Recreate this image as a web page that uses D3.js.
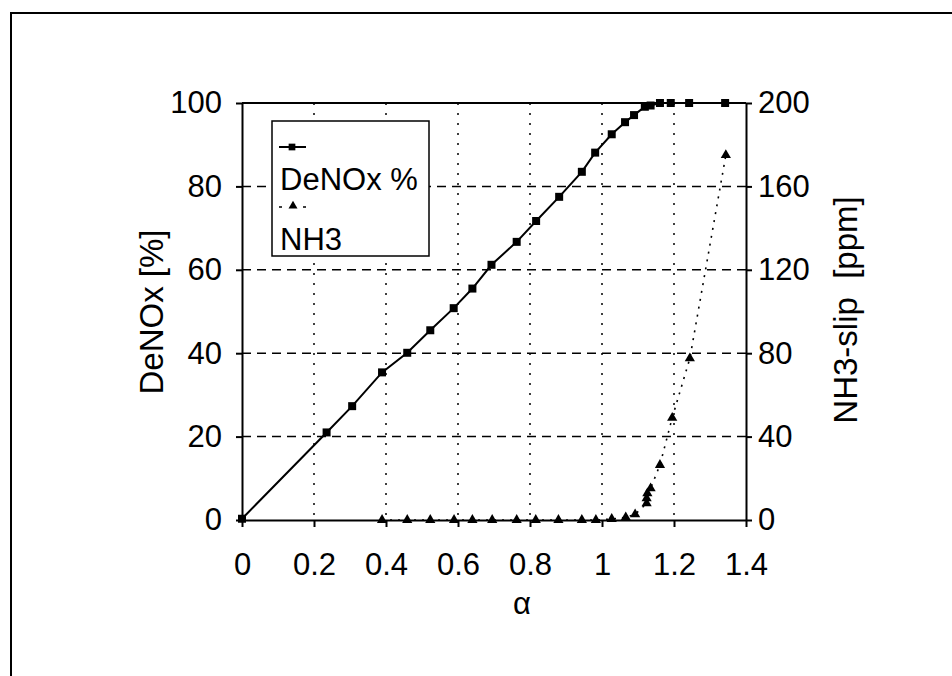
<!DOCTYPE html>
<html>
<head>
<meta charset="utf-8">
<script src="https://cdn.jsdelivr.net/npm/d3@7"></script>
<style>
  body { margin: 0; background: #fff; }
  svg text { font-family: "Liberation Sans", Arial, sans-serif; fill: #000; }
  .grid-h { stroke: #000; stroke-width: 1.5; stroke-dasharray: 9,6; }
  .grid-v { stroke: #000; stroke-width: 1.5; stroke-dasharray: 2,8; }
  .axis path, .axis line { stroke: #000; stroke-width: 2; }
</style>
</head>
<body>
<svg id="chart" width="952" height="676"></svg>
<script>
// DeNOx % vs alpha (left axis)
const denoxAlpha = [0, 0.235, 0.306, 0.389, 0.459, 0.523, 0.588, 0.640, 0.693, 0.763, 0.817, 0.881,
                    0.944, 0.981, 1.027, 1.064, 1.089, 1.119, 1.135, 1.161, 1.191, 1.242, 1.342];
const denoxValues = [0.3, 21.0, 27.3, 35.4, 40.1, 45.5, 50.8, 55.5, 61.2, 66.7, 71.7, 77.5,
                     83.5, 88.1, 92.5, 95.4, 97.1, 99.1, 99.4, 100, 100, 100, 100];

// NH3 slip in ppm vs alpha (right axis)
const nh3Alpha = [0.389, 0.459, 0.523, 0.589, 0.640, 0.695, 0.763, 0.816, 0.879, 0.944, 0.983,
                  1.027, 1.066, 1.092, 1.124, 1.124, 1.126, 1.135, 1.161, 1.195, 1.244, 1.344];
const nh3Values = [0, 0, 0, 0, 0, 0, 0, 0, 0, 0, 0,
                   0.5, 1.3, 2.7, 8, 10.4, 12.8, 15.2, 26.4, 49, 77.5, 175];

const xTicks = [0, 0.2, 0.4, 0.6, 0.8, 1, 1.2, 1.4];
const yLeftTicks = [0, 20, 40, 60, 80, 100];
const yRightTicks = [0, 40, 80, 120, 160, 200];

const svg = d3.select("#chart");

// outer frame (only top and left edges show)
svg.append("path")
  .attr("d", "M11,676 L11,13 L952,13")
  .attr("fill", "none")
  .attr("stroke", "#000")
  .attr("stroke-width", 2);

const x = d3.scaleLinear().domain([0, 1.4]).range([242, 746]);
const yL = d3.scaleLinear().domain([0, 100]).range([520, 103]);
const yR = d3.scaleLinear().domain([0, 200]).range([520, 103]);

// grid
svg.append("g").selectAll("line")
  .data(yLeftTicks.slice(1, -1))
  .join("line")
  .attr("class", "grid-h")
  .attr("x1", x(0)).attr("x2", x(1.4))
  .attr("y1", d => yL(d)).attr("y2", d => yL(d));

svg.append("g").selectAll("line")
  .data(xTicks.slice(1, -1))
  .join("line")
  .attr("class", "grid-v")
  .attr("x1", d => x(d)).attr("x2", d => x(d))
  .attr("y1", yL(100)).attr("y2", yL(0));

// top border of plot area
svg.append("line")
  .attr("x1", x(0)).attr("x2", x(1.4))
  .attr("y1", yL(100)).attr("y2", yL(100))
  .attr("stroke", "#000").attr("stroke-width", 2);

// axes
svg.append("g")
  .attr("class", "axis")
  .attr("transform", "translate(0," + yL(0) + ")")
  .call(d3.axisBottom(x).tickValues(xTicks).tickFormat(d3.format("")).tickSize(7).tickSizeOuter(0).tickPadding(26));

svg.append("g")
  .attr("class", "axis")
  .attr("transform", "translate(" + x(0) + ",0)")
  .call(d3.axisLeft(yL).tickValues(yLeftTicks).tickSize(6).tickSizeOuter(0).tickPadding(14));

svg.append("g")
  .attr("class", "axis")
  .attr("transform", "translate(" + x(1.4) + ",0)")
  .call(d3.axisRight(yR).tickValues(yRightTicks).tickSize(6).tickSizeOuter(0).tickPadding(6));

svg.selectAll(".axis text")
  .style("font-family", "'Liberation Sans', Arial, sans-serif")
  .style("font-size", "31px");

// axis titles
svg.append("text")
  .attr("transform", "translate(163,312) rotate(-90)")
  .attr("text-anchor", "middle")
  .style("font-size", "33px")
  .text("DeNOx [%]");

svg.append("text")
  .attr("transform", "translate(857,310) rotate(-90)")
  .attr("text-anchor", "middle")
  .style("font-size", "33px")
  .style("white-space", "pre")
  .text("NH3-slip  [ppm]");

svg.append("text")
  .attr("x", 522)
  .attr("y", 614)
  .attr("text-anchor", "middle")
  .style("font-size", "31px")
  .text("α");

// DeNOx series
const denoxPts = denoxAlpha.map((a, i) => [a, denoxValues[i]]);
const nh3Pts = nh3Alpha.map((a, i) => [a, nh3Values[i]]);

svg.append("path")
  .datum(denoxPts)
  .attr("fill", "none")
  .attr("stroke", "#000")
  .attr("stroke-width", 2)
  .attr("d", d3.line().x(d => x(d[0])).y(d => yL(d[1])));

svg.append("path")
  .datum(nh3Pts)
  .attr("fill", "none")
  .attr("stroke", "#000")
  .attr("stroke-width", 1.6)
  .attr("stroke-dasharray", "2,6")
  .attr("d", d3.line().x(d => x(d[0])).y(d => yR(d[1])));

const square = d3.symbol().type(d3.symbolSquare).size(64);
const triangle = d3.symbol().type(d3.symbolTriangle).size(45);

svg.append("g").selectAll("path")
  .data(denoxPts)
  .join("path")
  .attr("d", square)
  .attr("transform", d => "translate(" + x(d[0]) + "," + yL(d[1]) + ")")
  .attr("fill", "#000");

svg.append("g").selectAll("path")
  .data(nh3Pts)
  .join("path")
  .attr("d", triangle)
  .attr("transform", d => "translate(" + x(d[0]) + "," + yR(d[1]) + ")")
  .attr("fill", "#000");

// legend
const legend = svg.append("g");
legend.append("rect")
  .attr("x", 272).attr("y", 121)
  .attr("width", 157).attr("height", 135)
  .attr("fill", "#fff")
  .attr("stroke", "#000")
  .attr("stroke-width", 1.5);

legend.append("line")
  .attr("x1", 279).attr("x2", 306)
  .attr("y1", 147).attr("y2", 147)
  .attr("stroke", "#000").attr("stroke-width", 2);
legend.append("path")
  .attr("d", d3.symbol().type(d3.symbolSquare).size(45))
  .attr("transform", "translate(292,147)");
legend.append("text")
  .attr("x", 280).attr("y", 190)
  .style("font-size", "31px")
  .text("DeNOx %");

legend.append("line")
  .attr("x1", 279).attr("x2", 306)
  .attr("y1", 207).attr("y2", 207)
  .attr("stroke", "#000").attr("stroke-width", 1.6)
  .attr("stroke-dasharray", "3,9");
legend.append("path")
  .attr("d", d3.symbol().type(d3.symbolTriangle).size(35))
  .attr("transform", "translate(293,206)");
legend.append("text")
  .attr("x", 280).attr("y", 250)
  .style("font-size", "31px")
  .text("NH3");
</script>
</body>
</html>
